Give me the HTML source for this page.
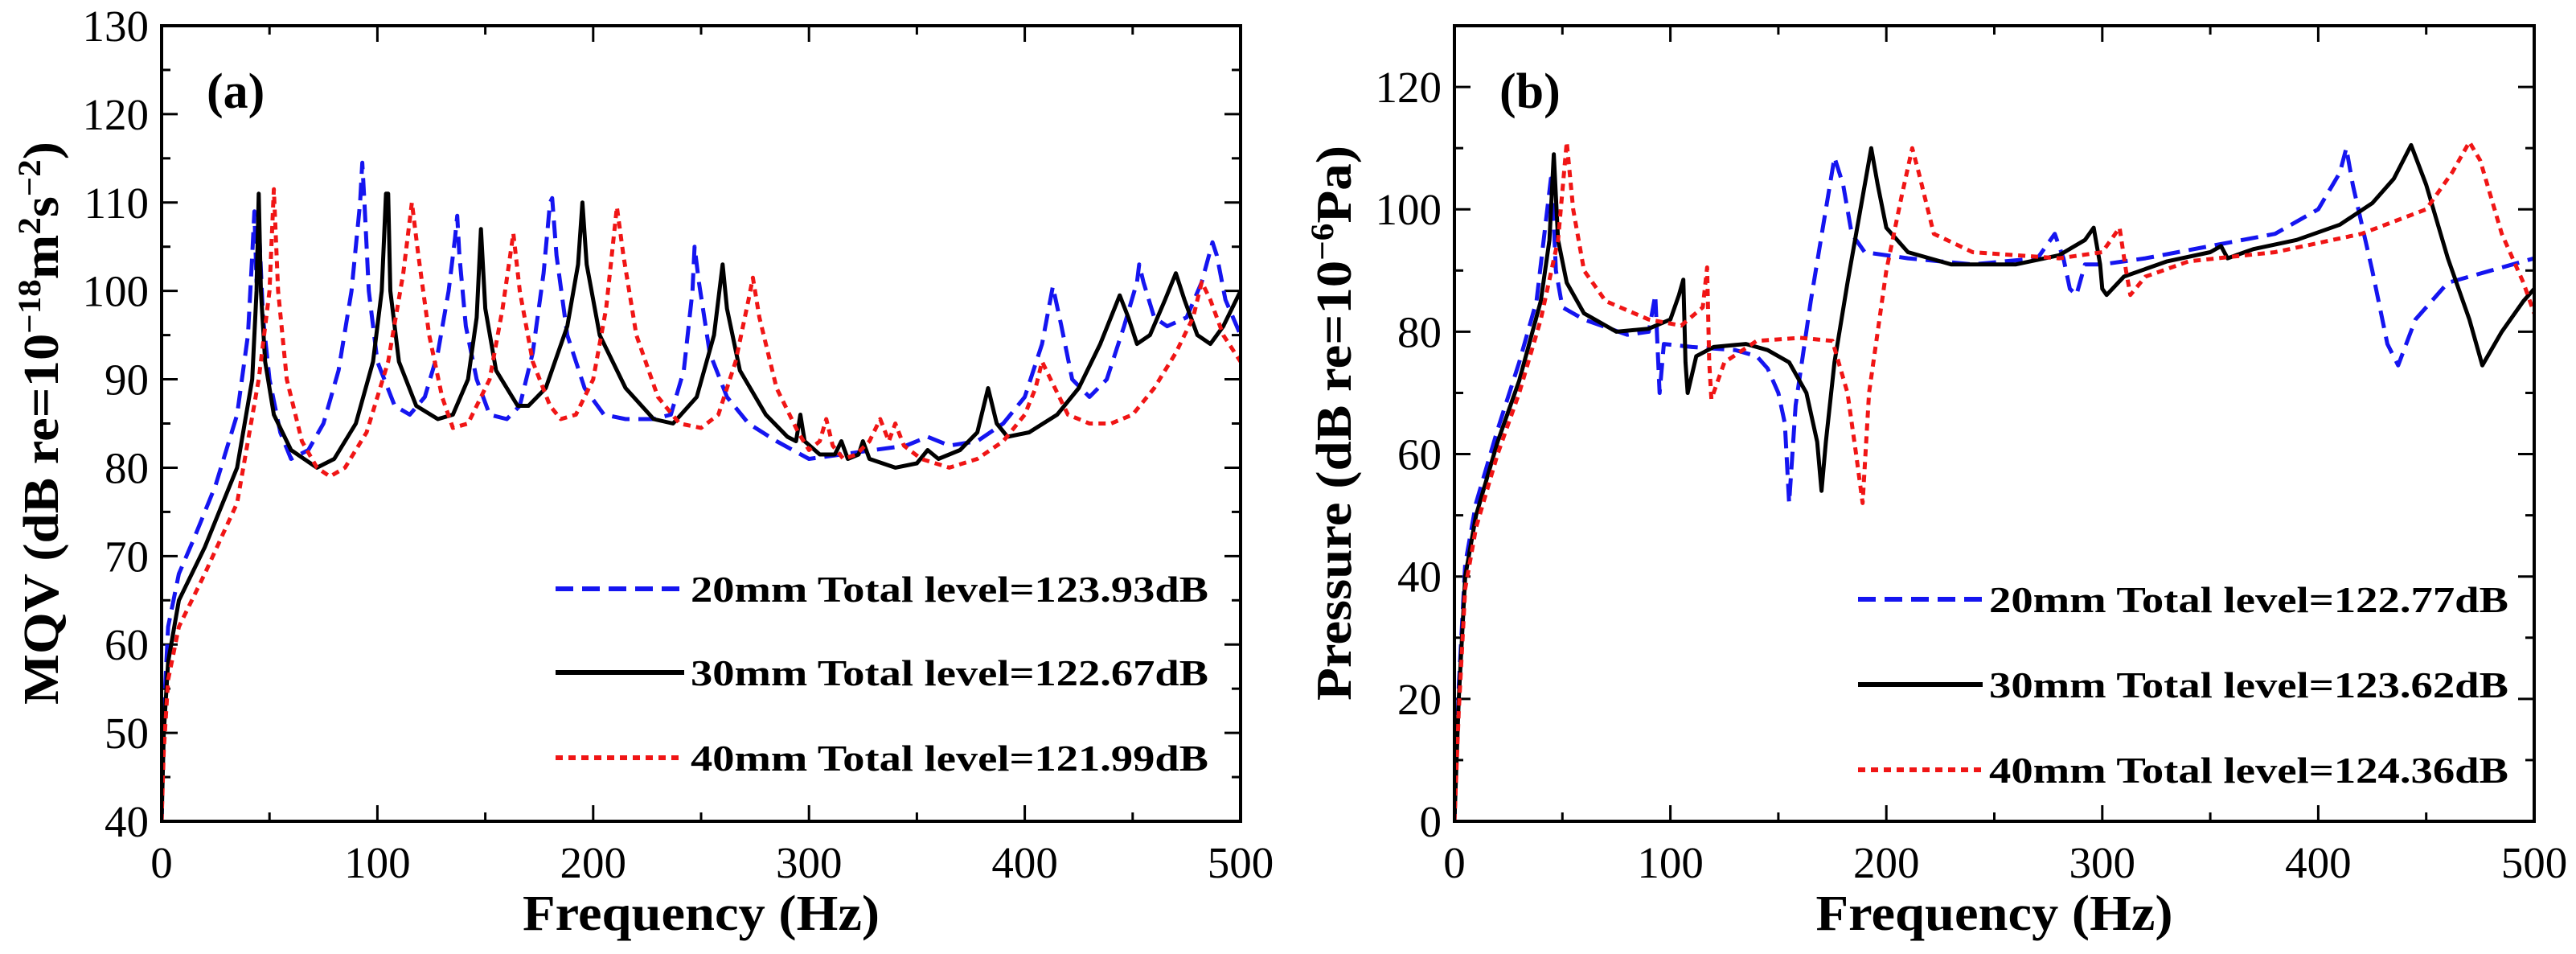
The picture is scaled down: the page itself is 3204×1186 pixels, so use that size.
<!DOCTYPE html>
<html><head><meta charset="utf-8">
<style>
html,body{margin:0;padding:0;background:#fff;}
svg{display:block;}
text{font-family:"Liberation Serif",serif;fill:#000;}
.tick{font-size:55px;}
.ttl{font-size:62px;font-weight:bold;}
.leg{font-size:46px;font-weight:bold;}
</style></head>
<body>
<svg id="chart" width="3204" height="1186" viewBox="0 0 3204 1186" xmlns="http://www.w3.org/2000/svg">
<g id="pa"></g>
<g id="pb"></g>
</svg>
<script>
// ---- Panel (a) MQV data ----
const aXTicks = [0,100,200,300,400,500];
const aYTicks = [40,50,60,70,80,90,100,110,120,130];
const a20f = [0,1,3,8,15,25,35,40,42,43,44,45,47,50,55,60,68,75,82,88,92,93,94,96,100,108,115,122,128,133,136,137,138,141,146,152,160,166,172,177,180,181,183,188,196,205,215,228,236,242,246,247,249,254,262,272,285,300,315,330,345,355,365,378,390,400,408,413,417,422,430,438,446,452,453,455,460,466,475,482,487,489,493,500];
const a20v = [40,52,62,68,72,78,86,95,104,109,101,108,97,90,84,81,82,85,91,100,110,114.5,110,100,92,87,86,88,93,100,106,108.5,104,96,90,86,85.5,87,93,102,110,110.5,104,95,89,86,85.5,85.5,86,91,100,105,101,93,88,85,83,81,81.5,82,82.5,83.5,82.5,83,85,88,94,100.5,96,90,88,90,96,101,103,101,97,96,97,101,105.5,104,99,95];
const a30f = [0,1,3,8,20,35,42,44,45,46,48,52,60,72,80,90,98,102,104,105,106,110,118,128,135,142,146,148,150,155,165,170,178,188,193,195,197,203,215,228,237,248,256,260,262,268,280,290,294,296,298,305,312,315,318,323,325,328,340,350,355,360,370,378,383,387,392,402,415,425,435,444,448,452,458,465,470,474,480,486,492,500];
const a30v = [40,50,58,65,71,80,90,100,111,100,92,86,82,80,81,85,92,100,111,111,100,92,87,85.5,86,90,97,107,98,91,87,87,89,96,103,110,103,95,89,85.5,85,88,95,103,98,91,86,83.5,83,86,83,81.5,81.5,83,81,81.5,83,81,80,80.5,82,81,82,84,89,85,83.5,84,86,89,94,99.5,97,94,95,99,102,99,95,94,96,100];
const a40f = [0,1,3,8,20,35,45,50,52,54,58,65,72,78,85,95,105,112,116,119,124,130,135,142,152,158,163,166,172,180,185,192,200,206,211,214,220,230,240,250,258,266,272,274,277,285,295,300,305,308,311,316,322,328,333,337,340,344,352,365,378,390,400,405,408,412,420,430,440,450,460,470,478,482,486,492,500];
const a40v = [40,48,56,62,68,76,90,100,111.5,100,90,83,80,79,80,84,92,102,110,104,95,88,84.5,85,90,98,106.5,100,92,87,85.5,86,90,98,109.5,104,95,88,85,84.5,86,92,99,101.5,97,89,84,82,83,85.5,82.5,81,81.5,83,85.5,83,85,82.5,81,80,81,83,86,89,92,90,86,85,85,86,89,93,97,101,99,95,92];

// ---- Panel (b) Pressure data ----
const bXTicks = [0,100,200,300,400,500];
const bYTicks = [0,20,40,60,80,100,120];
const b20f = [0,2,5,10,20,30,38,43,45,47,50,60,80,90,93,95,97,110,130,140,145,150,153,155,158,165,172,176,180,184,190,210,240,270,278,282,285,288,292,300,320,350,380,400,410,413,416,425,432,437,445,460,480,500];
const b20v = [0,22,42,52,64,75,85,100,106,90,84,82,79.5,80,86,70,78,77.5,77,76,74,70,65,52,68,85,100,108.5,104,96,93,92,91,92,96,92,87,86,91,91,92,94,96,100,106,110,104,90,78,74.5,82,88,90,92];
const b30f = [0,2,5,10,20,30,40,44,46,48,52,60,75,90,100,104,106,107,108,112,120,135,145,155,163,168,170,172,176,182,188,193,196,200,210,230,260,280,292,296,299,300,302,310,330,350,355,358,370,390,410,425,435,443,450,460,470,476,485,495,500];
const b30v = [0,20,40,50,62,72,85,95,109,95,88,83,80,80.5,82,86,88.5,75,70,76,77.5,78,77,75,70,62,54,62,75,88,100,110,104,97,93,91,91,92.5,95,97,91,87,86,89,91.5,93,94,92,93.5,95,97.5,101,105,110.5,104,92,82,74.5,80,85,87];
const b40f = [0,2,5,10,20,30,40,48,52,55,60,70,90,105,115,117,118,119,125,140,160,175,182,186,189,192,200,207,212,215,222,240,280,300,308,311,313,320,340,380,420,450,462,470,475,485,495,500];
const b40v = [0,18,38,48,60,70,82,95,111,100,90,85,82,81,84,90.5,75,69,75,78.5,79,78.5,70,60,52,70,90,102,110,106,96,93,92,93,97,90,86,89,91.5,93,96,100,106,111,108,96,88,83];

const NS = "http://www.w3.org/2000/svg";
function mk(parent, tag, attrs, txt){
  const e = document.createElementNS(NS, tag);
  for (const k in attrs) e.setAttribute(k, attrs[k]);
  if (txt !== undefined) e.textContent = txt;
  parent.appendChild(e);
  return e;
}
const T = 32, B = 1021;
function panel(g, L, R, ymin, ymax, xt, yt, minorY, series, label, ytitle, legend, legY){
  const sx = f => L + (f/500)*(R-L);
  const sy = v => B - (v-ymin)/(ymax-ymin)*(B-T);
  // ticks
  for (let i=0;i<xt.length;i++){
    const x = sx(xt[i]);
    const tk = mk(g,'line',{x1:x,x2:x,y1:B,y2:B-20,stroke:'#000','stroke-width':3});
    
    
    const tk2 = mk(g,'line',{x1:x,x2:x,y1:T,y2:T+20,stroke:'#000','stroke-width':3});
    
    
    const lb = mk(g,'text',{x:x,y:B+70,'text-anchor':'middle','class':'tick'},String(xt[i]));
    
    
    if (i<xt.length-1){
      const xm = sx((xt[i]+xt[i+1])/2);
      const mt = mk(g,'line',{x1:xm,x2:xm,y1:B,y2:B-11,stroke:'#000','stroke-width':3});
      
      
      const mt2 = mk(g,'line',{x1:xm,x2:xm,y1:T,y2:T+11,stroke:'#000','stroke-width':3});
      
      
    }
  }
  for (let v=ymin; v<=ymax+0.001; v+=minorY){
    const y = sy(v);
    const isMaj = yt.indexOf(v) >= 0;
    const len = isMaj ? 20 : 11;
    const t1 = mk(g,'line',{x1:L,x2:L+len,y1:y,y2:y,stroke:'#000','stroke-width':3});
    
    
    const t2 = mk(g,'line',{x1:R,x2:R-len,y1:y,y2:y,stroke:'#000','stroke-width':3});
    
    
  }
  for (let i=0;i<yt.length;i++){
    const lb = mk(g,'text',{x:L-16,y:sy(yt[i])+19,'text-anchor':'end','class':'tick'},String(yt[i]));
    
    
  }
  // series
  const clip = 'clip'+label;
  const cp = mk(g,'clipPath',{id:clip});
  mk(cp,'rect',{x:L,y:T,width:R-L,height:B-T});
  for (const s of series){
    let d='';
    for (let i=0;i<s.f.length;i++) d += (i?'L':'M')+sx(s.f[i]).toFixed(1)+' '+sy(s.v[i]).toFixed(1);
    const p = mk(g,'path',{d:d,fill:'none',stroke:s.c,'stroke-width':5,'stroke-dasharray':s.dash,'stroke-linejoin':'round','clip-path':'url(#'+clip+')'});
    
    
  }
  // frame
  const fr = mk(g,'rect',{x:L,y:T,width:R-L,height:B-T,fill:'none',stroke:'#000','stroke-width':4});
  
  
  // panel label
  const pl = mk(g,'text',{x:L+56,y:134,'class':'ttl','font-size':'58'},'('+label+')');
  
  
  // x title
  const xtl = mk(g,'text',{x:(L+R)/2,y:1156,'text-anchor':'middle','class':'ttl',textLength:444,lengthAdjust:'spacingAndGlyphs'},'Frequency (Hz)');
  
  
  // y title
  const yx = ytitle.x, yc = 526;
  const ytl = mk(g,'text',{x:yx,y:yc,'text-anchor':'middle','class':'ttl',transform:'rotate(-90 '+yx+' '+yc+')',textLength:ytitle.len,lengthAdjust:'spacingAndGlyphs'});
  
  
  ytitle.build(ytl);
  // legend
  for (let i=0;i<series.length;i++){
    const s = series[i], y = legY[i];
    const ll = mk(g,'line',{x1:legend.x1,x2:legend.x2,y1:y,y2:y,stroke:s.c,'stroke-width':6,'stroke-dasharray':s.dash});
    
    
    const lt = mk(g,'text',{x:legend.x2+8,y:y+16,'class':'leg',textLength:legend.w,lengthAdjust:'spacingAndGlyphs'},s.lab);
    
    
  }
}
function tsp(parent, txt, attrs){ const t = mk(parent,'tspan',attrs||{},txt); return t; }

panel(document.getElementById('pa'), 201, 1543, 40, 130, aXTicks, aYTicks, 5,
 [{f:a20f,v:a20v,c:'#1515f0',dash:'22 11',name:'series-20mm',lab:'20mm  Total level=123.93dB'},
  {f:a30f,v:a30v,c:'#000',dash:'none',name:'series-30mm',lab:'30mm  Total level=122.67dB'},
  {f:a40f,v:a40v,c:'#f01515',dash:'9 7',name:'series-40mm',lab:'40mm  Total level=121.99dB'}],
 'a', {x:72,len:700,build:function(t){
   tsp(t,'MQV (dB re=10');
   tsp(t,'\u221218',{dy:-22,'font-size':'40'});
   tsp(t,'m',{dy:22});
   tsp(t,'2',{dy:-22,'font-size':'40'});
   tsp(t,'s',{dy:22});
   tsp(t,'\u22122',{dy:-22,'font-size':'40'});
   tsp(t,')',{dy:22});
 }},
 {x1:691,x2:851,w:644}, [732,836,942]);

panel(document.getElementById('pb'), 1809, 3152, 0, 130, bXTicks, bYTicks, 10,
 [{f:b20f,v:b20v,c:'#1515f0',dash:'22 11',name:'series-20mm',lab:'20mm  Total level=122.77dB'},
  {f:b30f,v:b30v,c:'#000',dash:'none',name:'series-30mm',lab:'30mm  Total level=123.62dB'},
  {f:b40f,v:b40v,c:'#f01515',dash:'9 7',name:'series-40mm',lab:'40mm  Total level=124.36dB'}],
 'b', {x:1680,len:690,build:function(t){
   tsp(t,'Pressure (dB re=10');
   tsp(t,'\u22126',{dy:-22,'font-size':'40'});
   tsp(t,'Pa)',{dy:22});
 }},
 {x1:2311,x2:2466,w:646}, [745,851,957]);
</script>
</body></html>
